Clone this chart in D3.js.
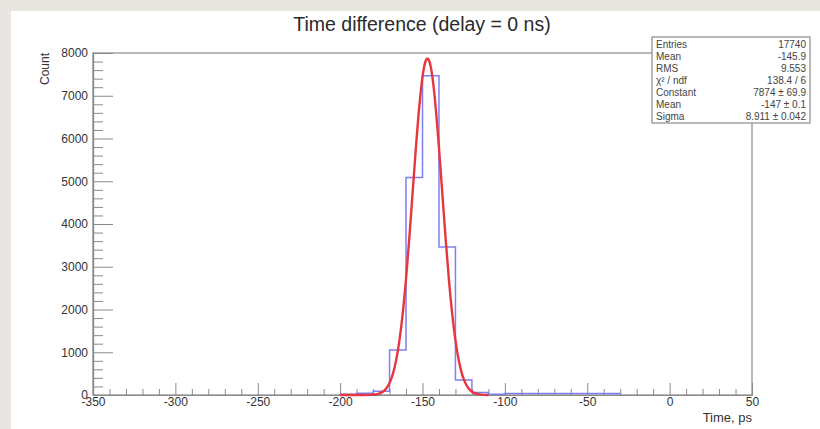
<!DOCTYPE html>
<html>
<head>
<meta charset="utf-8">
<script src="https://cdn.jsdelivr.net/npm/d3@7"></script>
<style>
  body { margin: 0; background: #e9e6e1; }
  svg { display: block; font-family: "Liberation Sans", Arial, sans-serif; }
</style>
</head>
<body>
<script>
// histogram: 10 ps bins, low edges
var binEdges = [-200, -190, -180, -170, -160, -150, -140, -130, -120, -110, -100, -90, -80, -70, -60, -50, -40, -30];
var binCounts = [20, 40, 90, 1050, 5090, 7470, 3460, 350, 60, 20, 35, 35, 35, 35, 35, 35, 35];

// gaussian fit curve
var fitX = [-200, -190, -185, -180, -177, -175, -172, -170, -168, -166, -164, -162, -160, -158, -156, -154, -152, -150, -148, -147,
            -146, -144, -142, -140, -138, -136, -134, -132, -130, -128, -126, -124, -122, -119, -117, -114, -110];
var fitY = [0, 0, 1, 8, 27, 56, 154, 282, 490, 811, 1276, 1910, 2717, 3676, 4728, 5783, 6727, 7440, 7824, 7874,
            7824, 7440, 6727, 5783, 4728, 3676, 2717, 1910, 1276, 811, 490, 282, 154, 56, 27, 8, 1];

var xTicks = [-350, -300, -250, -200, -150, -100, -50, 0, 50];
var yTicks = [0, 1000, 2000, 3000, 4000, 5000, 6000, 7000, 8000];

var statLabels = ["Entries", "Mean", "RMS", "\u03C7\u00B2 / ndf", "Constant", "Mean", "Sigma"];
var statValues = ["17740", "-145.9", "9.553", "138.4 / 6", "7874 \u00B1 69.9", "-147 \u00B1 0.1", "8.911 \u00B1 0.042"];

var width = 820;
var height = 429;
var margin = {top: 53, right: 68, bottom: 34, left: 93};
var innerWidth = width - margin.left - margin.right;
var innerHeight = height - margin.top - margin.bottom;

var svg = d3.select("body")
    .append("svg")
        .attr("width", width)
        .attr("height", height);

// white pad
svg.append("rect")
    .attr("x", 11)
    .attr("y", 11)
    .attr("width", width - 11)
    .attr("height", height - 11)
    .attr("fill", "#fff");

svg.append("text")
    .attr("x", 422)
    .attr("y", 31)
    .attr("text-anchor", "middle")
    .attr("font-size", 19.5)
    .attr("fill", "#2a2a2a")
    .text("Time difference (delay = 0 ns)");

var g = svg.append("g")
    .attr("transform", "translate(" + margin.left + "," + margin.top + ")");

//Scales
var x = d3.scaleLinear()
    .domain([-350, 50])
    .range([0, innerWidth]);

var y = d3.scaleLinear()
    .domain([0, 8000])
    .range([innerHeight, 0]);

// frame
g.append("rect")
    .attr("width", innerWidth)
    .attr("height", innerHeight)
    .attr("fill", "none")
    .attr("stroke", "#8a8a8a")
    .attr("stroke-width", 1.2);

// minor ticks
var xMinor = d3.range(-350, 51, 10).filter(v => xTicks.indexOf(v) < 0);
g.append("g")
    .attr("class", "x-minor")
    .attr("transform", "translate(0," + innerHeight + ")")
    .call(d3.axisBottom(x).tickValues(xMinor).tickSize(-6).tickSizeOuter(0));

var yMinor = d3.range(0, 8001, 200).filter(v => yTicks.indexOf(v) < 0);
g.append("g")
    .attr("class", "y-minor")
    .call(d3.axisLeft(y).tickValues(yMinor).tickSize(-10).tickSizeOuter(0));

g.selectAll(".x-minor text, .y-minor text").remove();

// major ticks
g.append("g")
    .attr("class", "x-axis")
    .attr("transform", "translate(0," + innerHeight + ")")
    .call(d3.axisBottom(x).tickValues(xTicks).tickSize(-12).tickSizeOuter(0).tickPadding(2).tickFormat(d => d));

g.append("g")
    .attr("class", "y-axis")
    .call(d3.axisLeft(y).tickValues(yTicks).tickSize(-20).tickSizeOuter(0).tickPadding(5).tickFormat(d => d));

g.selectAll(".x-axis, .y-axis, .x-minor, .y-minor").selectAll("path.domain")
    .attr("stroke", "#8a8a8a")
    .attr("stroke-width", 1.2);
g.selectAll(".x-axis line, .y-axis line, .x-minor line, .y-minor line")
    .attr("stroke", "#8a8a8a");
g.selectAll(".x-axis text, .y-axis text")
    .attr("font-size", 12)
    .attr("fill", "#333")
    .attr("font-family", "Liberation Sans, Arial, sans-serif");

g.append("text")
    .attr("x", innerWidth)
    .attr("y", innerHeight + 27)
    .attr("text-anchor", "end")
    .attr("font-size", 13)
    .attr("fill", "#333")
    .text("Time, ps");

g.append("text")
    .attr("transform", "rotate(-90)")
    .attr("x", 0)
    .attr("y", -44)
    .attr("text-anchor", "end")
    .attr("font-size", 12)
    .attr("fill", "#333")
    .text("Count");

// histogram outline
var histPts = [[binEdges[0], 0]];
binCounts.forEach((c, i) => {
    histPts.push([binEdges[i], c]);
    histPts.push([binEdges[i + 1], c]);
});
histPts.push([binEdges[binEdges.length - 1], 0]);

var line = d3.line()
    .x(d => x(d[0]))
    .y(d => y(d[1]));

g.append("path")
    .attr("d", line(histPts))
    .attr("fill", "none")
    .attr("stroke", "#7f7fef")
    .attr("stroke-width", 1.5);

// fit curve
g.append("path")
    .attr("d", d3.line()
        .x((d, i) => x(fitX[i]))
        .y(d => y(d))
        .curve(d3.curveMonotoneX)(fitY))
    .attr("fill", "none")
    .attr("stroke", "#e8363f")
    .attr("stroke-width", 2.4);

// stats box
var box = svg.append("g")
    .attr("transform", "translate(652,37)");
box.append("rect")
    .attr("width", 158)
    .attr("height", 86)
    .attr("fill", "#fff")
    .attr("stroke", "#8a8a8a")
    .attr("stroke-width", 1.2);

box.selectAll("text.lab")
    .data(statLabels)
    .enter()
    .append("text")
        .attr("class", "lab")
        .attr("x", 4)
        .attr("y", (d, i) => 10.5 + i * 12)
        .attr("font-size", 10)
        .attr("fill", "#444")
        .text(d => d);

box.selectAll("text.val")
    .data(statValues)
    .enter()
    .append("text")
        .attr("class", "val")
        .attr("x", 154)
        .attr("y", (d, i) => 10.5 + i * 12)
        .attr("text-anchor", "end")
        .attr("font-size", 10)
        .attr("fill", "#444")
        .text(d => d);
</script>
</body>
</html>
